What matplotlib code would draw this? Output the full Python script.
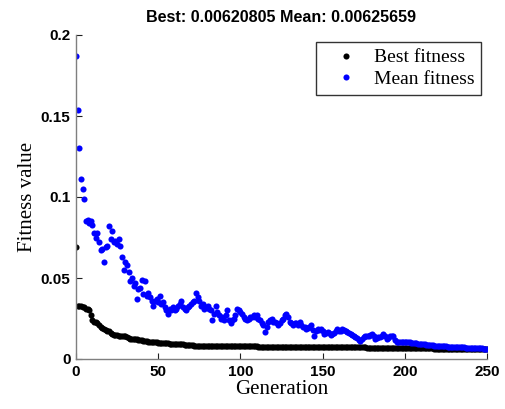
import matplotlib
matplotlib.use("Agg")
import matplotlib.pyplot as plt
import numpy as np

title_text = "Best: 0.00620805 Mean: 0.00625659"
x_label = "Generation"
y_label = "Fitness value"
series_names = ["Best fitness", "Mean fitness"]
x_ticks = [0, 50, 100, 150, 200, 250]
y_ticks = [0, 0.05, 0.1, 0.15, 0.2]
y_tick_labels = ["0", "0.05", "0.1", "0.15", "0.2"]

best_fitness = [
    0.069, 0.033, 0.033, 0.0325, 0.032, 0.032, 0.031, 0.031, 0.030, 0.027,
    0.024, 0.023, 0.0226, 0.022, 0.021, 0.020, 0.019, 0.0185, 0.018, 0.0175,
    0.017, 0.016, 0.0155, 0.015, 0.015, 0.0148, 0.0145, 0.0143, 0.0142, 0.0141,
    0.014, 0.0135, 0.013, 0.0125, 0.0124, 0.0123, 0.0122, 0.0121, 0.012, 0.0118,
    0.0115, 0.0113, 0.0112, 0.011, 0.0108, 0.0106, 0.0105, 0.0104, 0.0103, 0.0102,
    0.010, 0.0099, 0.0098, 0.0098, 0.0097, 0.0096, 0.0096, 0.0095, 0.0095, 0.0094,
    0.0094, 0.0093, 0.0092, 0.0091, 0.009, 0.009, 0.0089, 0.0088, 0.0087, 0.0086,
    0.0085, 0.0084, 0.0083, 0.0083, 0.0082, 0.0082, 0.0081, 0.0081, 0.008, 0.008,
    0.008, 0.0079, 0.0079, 0.0079, 0.0079, 0.0079, 0.0079, 0.0079, 0.0079, 0.0079,
    0.0078, 0.0078, 0.0078, 0.0078, 0.0078, 0.0078, 0.0078, 0.0078, 0.0078, 0.0078,
    0.0078, 0.0078, 0.0078, 0.0078, 0.0078, 0.0078, 0.0078, 0.0078, 0.0078, 0.0078,
    0.0078, 0.0072, 0.0072, 0.0072, 0.0072, 0.0072, 0.0072, 0.0072, 0.0072, 0.0072,
    0.0072, 0.0072, 0.0072, 0.0072, 0.0072, 0.0072, 0.0072, 0.0072, 0.0072, 0.0072,
    0.0072, 0.0072, 0.0072, 0.0072, 0.0072, 0.0072, 0.0072, 0.0072, 0.0072, 0.0072,
    0.0072, 0.0072, 0.0072, 0.0072, 0.0072, 0.0072, 0.0072, 0.0072, 0.0072, 0.0072,
    0.0071, 0.0071, 0.0071, 0.0071, 0.0071, 0.0071, 0.0071, 0.0071, 0.0071, 0.0071,
    0.0071, 0.0071, 0.0071, 0.0071, 0.0071, 0.0071, 0.0071, 0.0071, 0.0071, 0.0071,
    0.0071, 0.0071, 0.0071, 0.0071, 0.0071, 0.0071, 0.0071, 0.0068, 0.0068, 0.0068,
    0.0068, 0.0068, 0.0068, 0.0068, 0.0068, 0.0068, 0.0068, 0.0068, 0.0068, 0.0068,
    0.0068, 0.0068, 0.0068, 0.0068, 0.0068, 0.0068, 0.0068, 0.0068, 0.0068, 0.0068,
    0.0068, 0.0068, 0.0068, 0.0068, 0.0068, 0.0068, 0.0068, 0.0068, 0.0068, 0.0068,
    0.0068, 0.0068, 0.0068, 0.0068, 0.0068, 0.0068, 0.0068, 0.0068, 0.0064, 0.0064,
    0.0064, 0.0064, 0.0064, 0.0064, 0.0064, 0.0064, 0.0064, 0.0064, 0.0064, 0.0064,
    0.0063, 0.0063, 0.0063, 0.0063, 0.0063, 0.0063, 0.0063, 0.0063, 0.0063, 0.0063,
    0.0062, 0.0062, 0.0062, 0.0062, 0.0062, 0.0062, 0.0062, 0.0062, 0.0062, 0.0062,
    0.00620805,
]

mean_fitness = [
    0.187, 0.154, 0.130, 0.111, 0.105, 0.099, 0.085, 0.086, 0.084, 0.085,
    0.083, 0.078, 0.075, 0.078, 0.072, 0.067, 0.068, 0.060, 0.069, 0.070,
    0.082, 0.074, 0.079, 0.072, 0.073, 0.071, 0.074, 0.070, 0.063, 0.055,
    0.060, 0.058, 0.054, 0.048, 0.050, 0.045, 0.047, 0.037, 0.043, 0.044,
    0.049, 0.040, 0.048, 0.039, 0.041, 0.038, 0.036, 0.033, 0.036, 0.037,
    0.035, 0.039, 0.034, 0.035, 0.032, 0.030, 0.028, 0.031, 0.030, 0.032,
    0.030, 0.031, 0.033, 0.034, 0.036, 0.032, 0.031, 0.030, 0.032, 0.033,
    0.034, 0.035, 0.036, 0.041, 0.038, 0.036, 0.033, 0.034, 0.031, 0.032,
    0.033, 0.031, 0.030, 0.024, 0.028, 0.033, 0.029, 0.027, 0.025, 0.026,
    0.024, 0.027, 0.030, 0.024, 0.022, 0.024, 0.025, 0.027, 0.031, 0.030,
    0.029, 0.028, 0.026, 0.025, 0.024, 0.025, 0.026, 0.026, 0.027, 0.026,
    0.027, 0.025, 0.024, 0.022, 0.021, 0.0165, 0.020, 0.023, 0.024, 0.025,
    0.023, 0.023, 0.022, 0.021, 0.022, 0.024, 0.025, 0.027, 0.028, 0.026,
    0.023, 0.022, 0.021, 0.022, 0.022, 0.021, 0.023, 0.021, 0.0195, 0.020,
    0.0185, 0.019, 0.0195, 0.021, 0.018, 0.0144, 0.017, 0.0185, 0.018, 0.0185,
    0.017, 0.0154, 0.016, 0.0165, 0.016, 0.015, 0.0154, 0.016, 0.017, 0.0185,
    0.0175, 0.017, 0.0185, 0.018, 0.017, 0.0165, 0.016, 0.0154, 0.015, 0.014,
    0.0134, 0.013, 0.012, 0.0113, 0.0125, 0.0134, 0.014, 0.0144, 0.014, 0.015,
    0.0154, 0.014, 0.0123, 0.013, 0.0134, 0.0134, 0.014, 0.0154, 0.014, 0.0123,
    0.013, 0.0144, 0.014, 0.0144, 0.012, 0.0103, 0.0103, 0.0104, 0.0103, 0.0104,
    0.0103, 0.0103, 0.0102, 0.0102, 0.0100, 0.0098, 0.0097, 0.0096, 0.0094, 0.0093,
    0.0092, 0.0091, 0.0090, 0.0089, 0.0088, 0.0087, 0.0085, 0.0084, 0.0083, 0.0082,
    0.0082, 0.0081, 0.0080, 0.0079, 0.0078, 0.0078, 0.0077, 0.0076, 0.0076, 0.0075,
    0.0074, 0.0074, 0.0073, 0.0072, 0.0072, 0.0071, 0.0071, 0.0070, 0.0070, 0.0069,
    0.0069, 0.0068, 0.0068, 0.0067, 0.0066, 0.0066, 0.0065, 0.0065, 0.0064, 0.0063,
    0.00625659,
]

generations = np.arange(len(mean_fitness))

fig = plt.figure(figsize=(5.05, 4.09), dpi=100)
ax = fig.add_axes([76 / 505, 1 - 359 / 409, (487 - 76) / 505, (359 - 35) / 409])

ax.plot(generations, best_fitness, linestyle="none", marker="o", color="black",
        markersize=4.4, markeredgewidth=0, label=series_names[0])
ax.plot(generations, mean_fitness, linestyle="none", marker="o", color="#0000ff",
        markersize=4.4, markeredgewidth=0, label=series_names[1])

ax.set_xlim(0, 250)
ax.set_ylim(0, 0.2)
ax.set_xticks(x_ticks)
ax.set_yticks(y_ticks)
ax.set_yticklabels(y_tick_labels)

for side in ["top", "right"]:
    ax.spines[side].set_visible(False)
for side in ["left", "bottom"]:
    ax.spines[side].set_color("#7f7f7f")
    ax.spines[side].set_linewidth(1.0)

ax.tick_params(direction="in", length=4, color="#202020", width=0.8, pad=4)
for lab in ax.get_xticklabels() + ax.get_yticklabels():
    lab.set_fontfamily("Liberation Sans")
    lab.set_fontweight("bold")
    lab.set_fontsize(11)

ax.set_xlabel(x_label, fontfamily="Liberation Serif", fontsize=15, labelpad=1)
ax.set_ylabel(y_label, fontfamily="Liberation Serif", fontsize=15, labelpad=3)
ax.set_title(title_text, fontfamily="Liberation Sans", fontweight="bold", fontsize=11.6, pad=9)

leg = ax.legend(loc="upper right", bbox_to_anchor=(1.0 - 6 / 411, 1.0 - 7 / 324),
                prop={"family": "Liberation Serif", "size": 14},
                frameon=True, fancybox=False, edgecolor="black", markerscale=1.0,
                handlelength=2.4, borderpad=0.35, labelspacing=0.2, handletextpad=0.2,
                borderaxespad=0.0)
leg.get_frame().set_linewidth(1.0)

fig.savefig("out.png", dpi=100)
